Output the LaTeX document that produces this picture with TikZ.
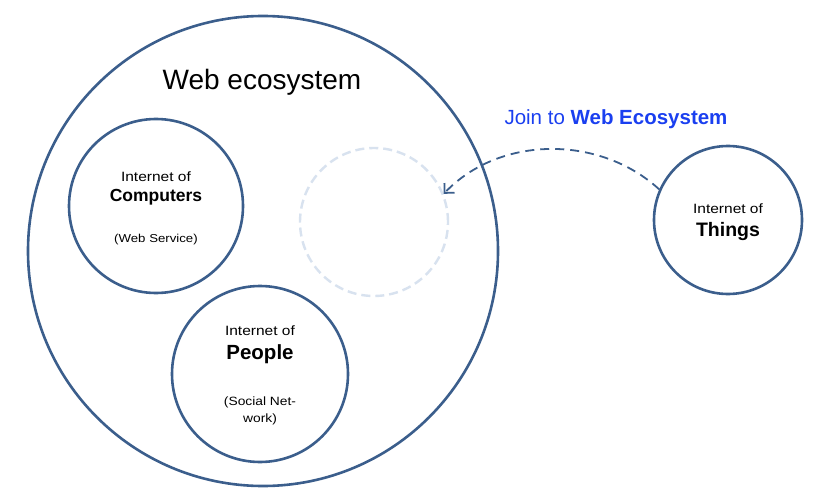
\documentclass[tikz,border=0pt]{standalone}
\usepackage{fontspec}
\setmainfont{Liberation Sans}
\newfontfamily\widefont[FakeStretch=1.15]{Liberation Sans}
\usetikzlibrary{arrows.meta}
\definecolor{ring}{HTML}{3B5E8C}
\definecolor{ghost}{HTML}{D8E2EF}
\definecolor{joinblue}{HTML}{1A3FF0}
\begin{document}
\begin{tikzpicture}[x=1pt,y=-1pt,
  ringc/.style={circle,draw=ring,line width=2.6pt,fill=white,inner sep=0pt,align=center},
  lab/.style={align=center,inner sep=0pt}]
\useasboundingbox (0,0) rectangle (838,492);
\node[ringc,minimum size=470pt] (eco) at (263,251) {};
\node[lab,font=\fontsize{28}{32}\selectfont] (ecot) at (262,82) {Web ecosystem};
\node[ringc,minimum size=174pt] (comp) at (156,206) {};
\node[lab,font=\widefont\fontsize{13.5}{15}\selectfont] (c1) at (156,177) {Internet of};
\node[lab,font=\fontsize{17.5}{19}\selectfont\bfseries] (c2) at (156,197) {Computers};
\node[lab,font=\widefont\fontsize{11.5}{13}\selectfont] (c3) at (156,240) {(Web Service)};
\node[ringc,minimum size=176pt] (peop) at (260,374) {};
\node[lab,font=\widefont\fontsize{13.5}{15}\selectfont] (p1) at (260,331) {Internet of};
\node[lab,font=\fontsize{20.5}{22}\selectfont\bfseries] (p2) at (260,354) {People};
\node[lab,font=\widefont\fontsize{12}{17}\selectfont] (p3) at (260,411) {(Social Net-\\work)};
\node[circle,draw=ghost,line width=2.4pt,dash pattern=on 9pt off 5pt,minimum size=148pt,inner sep=0pt] (dash) at (374,222) {};
\node[ringc,minimum size=148pt] (thing) at (728,220) {};
\node[lab,font=\widefont\fontsize{13.5}{15}\selectfont] (t1) at (728,209) {Internet of};
\node[lab,font=\fontsize{19.5}{21}\selectfont\bfseries] (t2) at (728,232) {Things};
\node[lab,font=\fontsize{20.5}{22}\selectfont,text=joinblue] (join) at (616,119) {Join to \textbf{Web Ecosystem}};
\draw[ring,line width=1.8pt,dash pattern=on 9pt off 6pt,-{Straight Barb[length=7pt,width=14pt]}]
  (thing.156) .. controls (600,135) and (500,135) .. (dash.22);
\end{tikzpicture}
\end{document}
